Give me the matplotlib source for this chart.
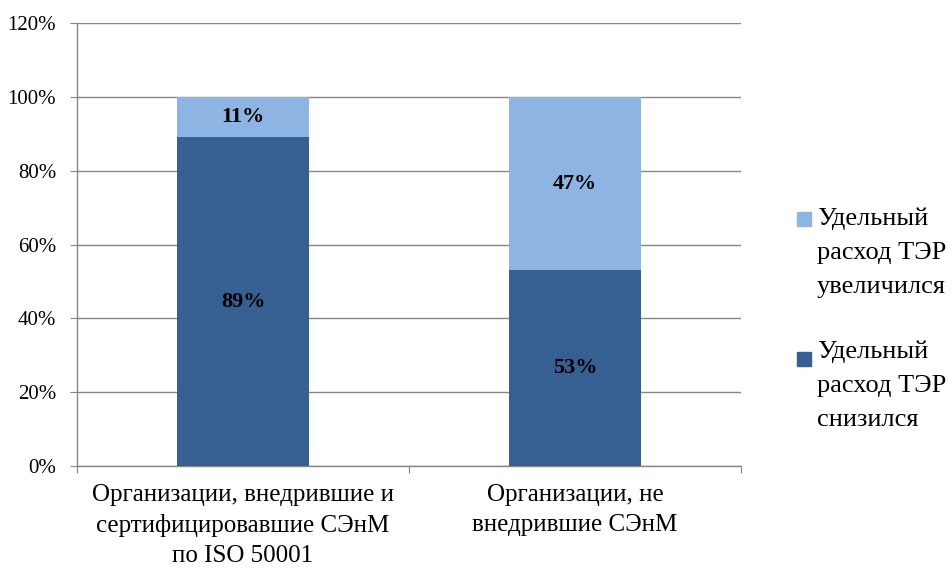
import matplotlib
matplotlib.use("Agg")
import matplotlib.pyplot as plt
from matplotlib.patches import Rectangle

categories = ["Организации, внедрившие и\nсертифицировавшие СЭнМ\nпо ISO 50001",
              "Организации, не\nвнедрившие СЭнМ"]
decreased = [89, 53]
increased = [11, 47]
series_names = ["Удельный\nрасход ТЭР\nувеличился", "Удельный\nрасход ТЭР\nснизился"]
yticks = [0, 20, 40, 60, 80, 100, 120]

dark = "#376092"
light = "#8EB4E3"
grid = "#868686"

plt.rcParams['font.family'] = ['Liberation Serif', 'DejaVu Serif']

W, H = 952, 569
fig = plt.figure(figsize=(W/100, H/100), dpi=100)
ax = fig.add_axes([77/W, 1-466/H, 664/W, 443/H])

x = list(range(len(categories)))
ax.bar(x, decreased, width=0.4, color=dark, zorder=3)
ax.bar(x, increased, width=0.4, bottom=decreased, color=light, zorder=3)

for i in x:
    ax.text(i, decreased[i]/2, f"{decreased[i]}%", ha='center', va='center',
            fontsize=16, fontweight='bold', color='black', zorder=4)
    ax.text(i, decreased[i] + increased[i]/2, f"{increased[i]}%", ha='center', va='center',
            fontsize=16, fontweight='bold', color='black', zorder=4)

ax.set_xlim(-0.5, 1.5)
ax.set_ylim(0, 120)
ax.set_yticks(yticks)
ax.set_yticklabels([f"{v}%" for v in yticks], fontsize=15)
ax.yaxis.grid(True, color=grid, linewidth=1, zorder=0)
ax.tick_params(axis='y', length=5, color=grid, pad=10)

ax.set_xticks([-0.5, 0.5, 1.5])
ax.set_xticklabels([])
ax.tick_params(axis='x', length=5, color=grid)
ax.set_xticks(x, minor=True)
ax.set_xticklabels(categories, minor=True, fontsize=18, linespacing=1.45)
ax.tick_params(axis='x', which='minor', length=0, pad=13)

for s in ['top', 'right']:
    ax.spines[s].set_visible(False)
for s in ['left', 'bottom']:
    ax.spines[s].set_color(grid)
    ax.spines[s].set_linewidth(1)

# legend drawn manually (square aligned with first text line)
leg_text_centers = [253, 386]
leg_square_centers = [219, 359]
cols = [light, dark]
for name, tc, sc, c in zip(series_names, leg_text_centers, leg_square_centers, cols):
    fig.patches.append(Rectangle((797/W, 1-(sc+7)/H), 14/W, 14/H,
                                 transform=fig.transFigure, color=c))
    fig.text(817/W, 1-tc/H, name, ha='left', va='center', fontsize=19, linespacing=1.72)

fig.savefig("out.png", dpi=100)
